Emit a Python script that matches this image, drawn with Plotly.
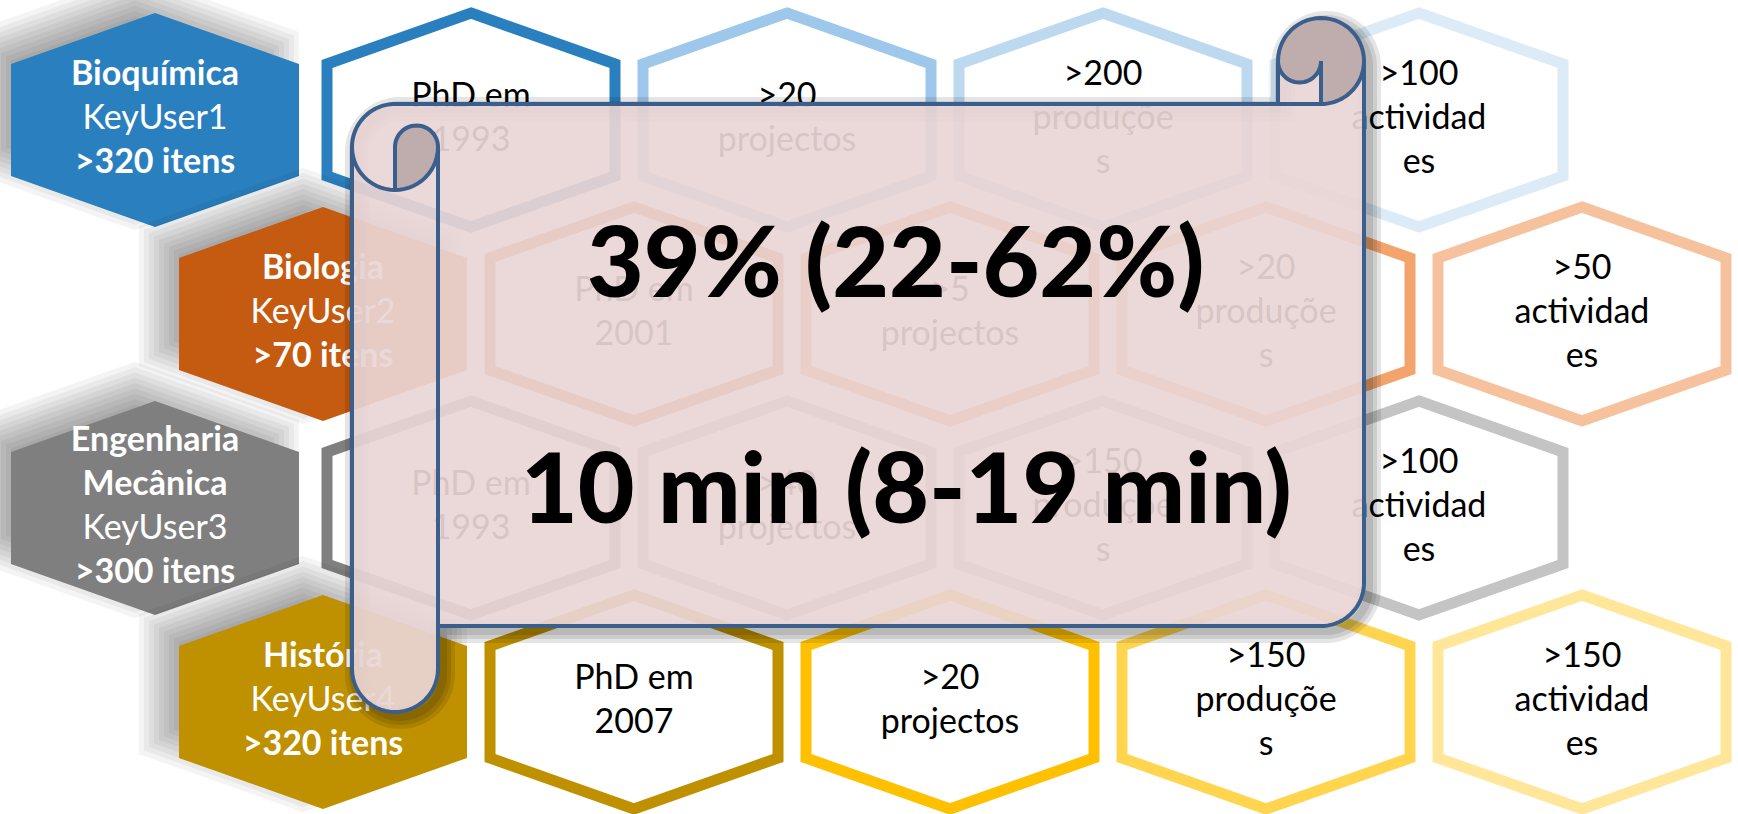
import math
import plotly.graph_objects as go

# ---------------- data ----------------
dept_names = [["Bioquímica"], ["Biologia"], ["Engenharia", "Mecânica"], ["História"]]
key_users = ["KeyUser1", "KeyUser2", "KeyUser3", "KeyUser4"]
item_counts = [">320 itens", ">70 itens", ">300 itens", ">320 itens"]
phd_years = ["1993", "2001", "1993", "2007"]
project_counts = [">20", ">5", ">40", ">20"]
production_counts = [">200", ">20", ">150", ">150"]
activity_counts = [">100", ">50", ">100", ">150"]
stat_lines = ["39% (22-62%)", "10 min (8-19 min)"]

# ---------------- style ----------------
FILL_COLORS = ["#2A80BF", "#C55A11", "#7F7F7F", "#BF9000"]
OUTLINE_COLORS = [
    ["#2A80BF", "#9DC8EB", "#BDD9F0", "#DCEBF8"],
    ["#C55A11", "#ED7D31", "#F3A46C", "#F6C29E"],
    ["#7F7F7F", "#A5A5A5", "#B5B5B5", "#C4C4C4"],
    ["#BF9000", "#FFC000", "#FFD54F", "#FFE699"],
]
W, H = 1738, 814
ROW_Y = [120, 314, 508, 702]
ROW_X0 = [155, 318, 155, 318]
FILLED_SHIFT = [0, 5, 0, 5]
PITCH = 316
HW, HH, SLOPE = 144, 107, 51
LINE_GAP = 44
FONT = "Lato"
TEXT_SIZE = 34
OUTLINE_W = 11

SCROLL_LINE = "#3B5F8C"
SCROLL_FILL = "rgba(233,213,213,0.92)"
SCROLL_DARK = "#BFADAD"


def hex_pts(cx, cy, e=0.0):
    ln = math.hypot(HW, SLOPE)
    nx, ny = SLOPE / ln, HW / ln
    k = SLOPE / HW
    hh = HH + e * (ny + k * nx)
    sh = (HH - SLOPE) + e * (ny - k * (1 - nx))
    hw = HW + e
    return [(cx, cy - hh), (cx + hw, cy - sh), (cx + hw, cy + sh),
            (cx, cy + hh), (cx - hw, cy + sh), (cx - hw, cy - sh)]


def path(pts, close=True):
    s = "M " + " L ".join(f"{x:.2f},{y:.2f}" for x, y in pts)
    return s + (" Z" if close else "")


def arc(cx, cy, r, a0, a1, n=28):
    out = []
    for i in range(n + 1):
        a = math.radians(a0 + (a1 - a0) * i / n)
        out.append((cx + r * math.cos(a), cy + r * math.sin(a)))
    return out


shapes = []

# outlined hexagons
cell_texts = []
for i in range(4):
    cells = [["PhD em", phd_years[i]],
             [project_counts[i], "projectos"],
             [production_counts[i], "produçõe", "s"],
             [activity_counts[i], "actividad", "es"]]
    for j in range(4):
        cx = ROW_X0[i] + PITCH * (j + 1)
        cy = ROW_Y[i]
        shapes.append(dict(type="path", path=path(hex_pts(cx, cy)), xref="x", yref="y",
                           fillcolor="white", line=dict(color=OUTLINE_COLORS[i][j], width=OUTLINE_W),
                           layer="below"))
        cell_texts.append((cx, cy, cells[j]))

# filled hexagons with soft shadows (offset up-left, blurred)
SH_DX, SH_DY = -20, -18
for i in range(4):
    cx, cy = ROW_X0[i] + FILLED_SHIFT[i], ROW_Y[i]
    for e in range(-20, 25, 5):
        shapes.append(dict(type="path", path=path(hex_pts(cx + SH_DX, cy + SH_DY, e)), xref="x", yref="y",
                           fillcolor="rgba(0,0,0,0.043)", line=dict(width=0), layer="below"))
    shapes.append(dict(type="path", path=path(hex_pts(cx, cy)), xref="x", yref="y",
                       fillcolor=FILL_COLORS[i], line=dict(width=0), layer="below"))

# ---------------- scroll ----------------
SL, SR, ST, SB = 352, 1364, 18, 712
CH = 86
CH2, CH4 = CH / 2, CH / 4
top = ST + CH
yc = ST + CH2
y3 = ST + CH + CH2
y4 = ST + 2 * CH
y6 = SB - CH
y7 = SB - CH2
y5 = y6 - CH2
x3 = SR - CH
x4 = SR - CH2

outer = ([(SR, yc), (SR, y5)] + arc(x4, y5, CH2, 0, 90) + [(SL + CH, y6), (SL + CH, y7)]
         + arc(SL + CH2, y7, CH2, 0, 180) + [(SL, y3)] + arc(SL + CH2, y3, CH2, 180, 270)
         + [(x3, top), (x3, yc)] + arc(x4, yc, CH2, 180, 360))
for w in (24, 16, 8):
    shapes.append(dict(type="path", path=path([(x + 5, y + 5) for x, y in outer]), xref="x", yref="y",
                       fillcolor="rgba(0,0,0,0)", line=dict(color="rgba(0,0,0,0.1)", width=w), layer="above"))

light = ([(SR, yc), (SR, y5)] + arc(x4, y5, CH2, 0, 90) + [(SL + CH, y6), (SL + CH, y7)]
         + arc(SL + CH2, y7, CH2, 0, 180) + [(SL, y3)] + arc(SL + CH2, y3, CH2, 180, 270)
         + [(x3, top), (x3, yc)] + arc(x3 + CH4, yc, CH4, 180, 0) + [(x4, top)]
         + arc(x4, yc, CH2, 90, 0))
shapes.append(dict(type="path", path=path(light), xref="x", yref="y",
                   fillcolor=SCROLL_FILL, line=dict(width=0), layer="above"))

dark_r = arc(x4, yc, CH2, 180, 450) + [(x4, yc)] + arc(x3 + CH4, yc, CH4, 0, 180)
dark_l = arc(SL + 3 * CH4, y3, CH4, 0, -180) + [(SL + CH2, y4)] + arc(SL + CH2, y3, CH2, 90, 0)
for d in (dark_r, dark_l):
    shapes.append(dict(type="path", path=path(d), xref="x", yref="y",
                       fillcolor=SCROLL_DARK, line=dict(width=0), layer="above"))

strokes = [
    [(x4, top), (SL + CH2, top)] + arc(SL + CH2, y3, CH2, 270, 180) + [(SL, y7)]
    + arc(SL + CH2, y7, CH2, 180, 0) + [(SL + CH, y3)] + arc(SL + 3 * CH4, y3, CH4, 0, -180)
    + [(SL + CH2, y4)],
    arc(SL + CH2, y3, CH2, 180, 0),
    [(SL + CH, y6), (x4, y6)] + arc(x4, y5, CH2, 90, 0) + [(SR, yc)] + arc(x4, yc, CH2, 0, -180)
    + [(x3, top)],
    arc(x3 + CH4, yc, CH4, 180, 0) + [(x4, top)] + arc(x4, yc, CH2, 90, 0),
]
for s in strokes:
    shapes.append(dict(type="path", path=path(s, close=False), xref="x", yref="y",
                       fillcolor="rgba(0,0,0,0)", line=dict(color=SCROLL_LINE, width=4), layer="above"))

# ---------------- texts ----------------
groups = {"wb": ([], [], []), "wr": ([], [], []), "kr": ([], [], [])}


def add_lines(cx, cy, lines, styles):
    n = len(lines)
    for k, (t, s) in enumerate(zip(lines, styles)):
        g = groups[s]
        g[0].append(cx)
        g[1].append(cy + (k - (n - 1) / 2) * LINE_GAP)
        g[2].append(t)


for i in range(4):
    lines = dept_names[i] + [key_users[i], item_counts[i]]
    styles = ["wb"] * len(dept_names[i]) + ["wr", "wb"]
    add_lines(ROW_X0[i] + FILLED_SHIFT[i], ROW_Y[i], lines, styles)
for cx, cy, lines in cell_texts:
    add_lines(cx, cy, lines, ["kr"] * len(lines))

fig = go.Figure()
style = {"wb": ("white", 700), "wr": ("white", 400), "kr": ("black", 400)}
for key, (xs, ys, ts) in groups.items():
    col, wt = style[key]
    fig.add_trace(go.Scatter(x=xs, y=ys, text=ts, mode="text", textposition="middle center",
                             textfont=dict(family=FONT, size=TEXT_SIZE, color=col, weight=wt),
                             hoverinfo="skip", showlegend=False, cliponaxis=False))

STAT_X = [895, 906]
STAT_Y = [259, 485]
annotations = []
for t, x, y in zip(stat_lines, STAT_X, STAT_Y):
    annotations.append(dict(x=x, y=y, xref="x", yref="y", text=t, showarrow=False,
                            xanchor="center", yanchor="middle",
                            font=dict(family=FONT, size=98, color="black", weight=900)))

fig.update_layout(
    width=W, height=H, margin=dict(l=0, r=0, t=0, b=0),
    xaxis=dict(range=[0, W], visible=False, fixedrange=True),
    yaxis=dict(range=[H, 0], visible=False, fixedrange=True),
    plot_bgcolor="white", paper_bgcolor="white",
    shapes=shapes, annotations=annotations, showlegend=False,
)
fig.write_html("out.html", config={"displayModeBar": False},
               post_script="document.body.style.margin='0';document.body.style.overflow='hidden';")
